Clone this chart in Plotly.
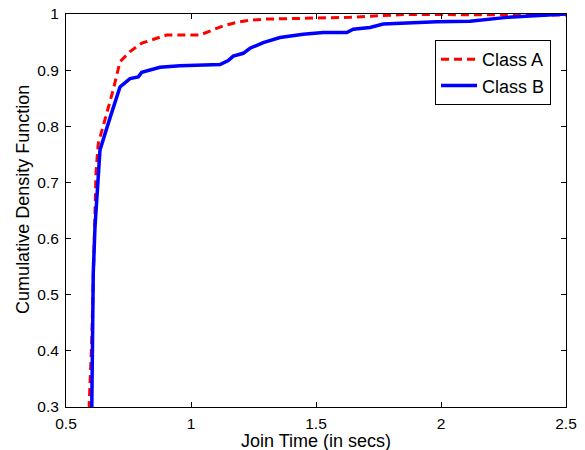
import plotly.graph_objects as go

# Empirical CDF samples of join time (seconds) for the two classes
class_a_time = [0.592, 0.593, 0.603, 0.612, 0.620, 0.629, 0.660, 0.689, 0.716, 0.756,
                0.803, 0.863, 0.903, 1.036, 1.076, 1.129, 1.183, 1.236, 1.303, 1.489,
                1.636, 1.716, 1.848, 2.000, 2.300, 2.500]
class_a_cdf = [0.25, 0.307, 0.419, 0.597, 0.717, 0.769, 0.820, 0.865, 0.915, 0.933,
               0.948, 0.957, 0.9626, 0.9626, 0.970, 0.979, 0.985, 0.989, 0.991, 0.992,
               0.994, 0.996, 0.999, 0.999, 0.999, 0.998]

class_b_time = [0.602, 0.603, 0.605, 0.609, 0.616, 0.636, 0.676, 0.716, 0.756, 0.789,
                0.803, 0.876, 0.956, 1.036, 1.116, 1.149, 1.169, 1.209, 1.236, 1.289,
                1.356, 1.449, 1.529, 1.623, 1.649, 1.716, 1.769, 1.983, 2.116, 2.263,
                2.488, 2.500]
class_b_cdf = [0.25, 0.30, 0.419, 0.538, 0.621, 0.758, 0.815, 0.870, 0.885, 0.888,
               0.896, 0.905, 0.908, 0.909, 0.910, 0.917, 0.925, 0.930, 0.939, 0.949,
               0.958, 0.964, 0.967, 0.967, 0.973, 0.976, 0.982, 0.986, 0.987, 0.994,
               1.000, 1.000]

x_ticks = [0.5, 1, 1.5, 2, 2.5]
x_tick_text = ["0.5", "1", "1.5", "2", "2.5"]
y_ticks = [0.3, 0.4, 0.5, 0.6, 0.7, 0.8, 0.9, 1.0]
y_tick_text = ["0.3", "0.4", "0.5", "0.6", "0.7", "0.8", "0.9", "1"]

FONT = "Liberation Sans, Arial, Helvetica, sans-serif"

fig = go.Figure()
fig.add_trace(go.Scatter(
    x=class_a_time, y=class_a_cdf, mode="lines", name="Class A",
    line=dict(color="#ff0000", width=3, dash="8px,5px"),
))
fig.add_trace(go.Scatter(
    x=class_b_time, y=class_b_cdf, mode="lines", name="Class B",
    line=dict(color="#0000ff", width=3.5),
))

axis_common = dict(
    showline=True, linecolor="black", linewidth=1, mirror="ticks",
    ticks="inside", ticklen=5, tickcolor="black", tickwidth=1,
    showgrid=False, zeroline=False, automargin=False,
    tickfont=dict(family=FONT, size=15.5, color="black"),
)

fig.update_layout(
    width=585, height=450,
    margin=dict(l=66, r=19, t=14, b=43),
    paper_bgcolor="white", plot_bgcolor="white",
    font=dict(family=FONT, color="black"),
    showlegend=True,
    legend=dict(
        x=0.97, y=0.934, xanchor="right", yanchor="top",
        bgcolor="white", bordercolor="black", borderwidth=1,
        font=dict(family=FONT, size=18, color="black"),
        tracegroupgap=0, itemwidth=36,
    ),
    xaxis=dict(
        range=[0.5, 2.5], tickvals=x_ticks, ticktext=x_tick_text,
        ticklabelstandoff=2,
        **axis_common,
    ),
    yaxis=dict(
        range=[0.3, 1.0], tickvals=y_ticks, ticktext=y_tick_text,
        ticklabelstandoff=3,
        **axis_common,
    ),
    annotations=[
        dict(
            text="Join Time (in secs)",
            xref="paper", yref="paper", x=0.5, y=-0.087,
            xanchor="center", yanchor="middle", showarrow=False,
            font=dict(family=FONT, size=18, color="black"),
        ),
        dict(
            text="Cumulative Density Function", textangle=-90,
            xref="paper", yref="paper", x=-0.086, y=0.527,
            xanchor="center", yanchor="middle", showarrow=False,
            font=dict(family=FONT, size=18, color="black"),
        ),
    ],
)

fig.write_html("out.html")
